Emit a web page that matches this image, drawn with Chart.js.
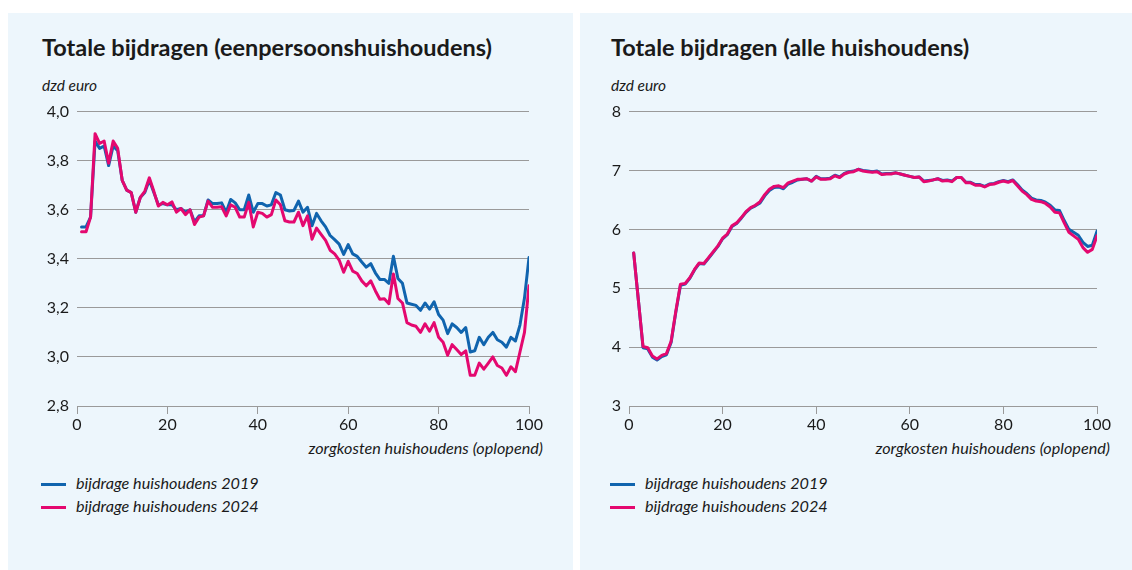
<!DOCTYPE html>
<html lang="nl">
<head>
<meta charset="utf-8">
<title>Totale bijdragen</title>
<script src="https://cdn.jsdelivr.net/npm/chart.js@4/dist/chart.umd.min.js"></script>
<style>
  body { margin: 0; width: 1132px; height: 570px; background: #fff; position: relative; overflow: hidden; font-family: Lato, "Open Sans", sans-serif; color: #1a1a1a; }
  .panel { position: absolute; top: 13px; height: 557px; background: #edf6fc; }
  .title { position: absolute; font-weight: bold; font-size: 23.5px; }
  .unit, .xtitle, .legend { position: absolute; font-style: italic; font-size: 16.2px; }
  .unit { font-size: 15.5px; }
  .xtitle { text-align: right; }
  .legend div { height: 23px; line-height: 23px; white-space: nowrap; }
  .legend span { display: inline-block; width: 25px; height: 3px; vertical-align: middle; margin-right: 10px; }
  canvas { position: absolute; }
</style>
</head>
<body>
<div class="panel" style="left:8px;width:565px"></div>
<div class="panel" style="left:580px;width:552px"></div>

<div class="title" style="left:42px;top:33px">Totale bijdragen (eenpersoonshuishoudens)</div>
<div class="unit" style="left:42px;top:76px">dzd euro</div>
<div class="xtitle" style="right:589px;top:438px">zorgkosten huishoudens (oplopend)</div>
<div class="legend" style="left:41px;top:471px">
  <div><span style="background:#1064ae"></span>bijdrage huishoudens 2019</div>
  <div><span style="background:#e4086f"></span>bijdrage huishoudens 2024</div>
</div>
<div style="position:absolute;left:30px;top:94px;width:520px;height:346px"><canvas id="links"></canvas></div>

<div class="title" style="left:611px;top:33px">Totale bijdragen (alle huishoudens)</div>
<div class="unit" style="left:611px;top:76px">dzd euro</div>
<div class="xtitle" style="right:22px;top:438px">zorgkosten huishoudens (oplopend)</div>
<div class="legend" style="left:610px;top:471px">
  <div><span style="background:#1064ae"></span>bijdrage huishoudens 2019</div>
  <div><span style="background:#e4086f"></span>bijdrage huishoudens 2024</div>
</div>
<div style="position:absolute;left:590px;top:94px;width:530px;height:346px"><canvas id="rechts"></canvas></div>

<script>
// percentielen zorgkosten (oplopend)
const percentiel = [
  1, 2, 3, 4, 5, 6, 7, 8, 9, 10, 11, 12, 13, 14, 15, 16, 17, 18, 19, 20,
  21, 22, 23, 24, 25, 26, 27, 28, 29, 30, 31, 32, 33, 34, 35, 36, 37, 38, 39, 40,
  41, 42, 43, 44, 45, 46, 47, 48, 49, 50, 51, 52, 53, 54, 55, 56, 57, 58, 59, 60,
  61, 62, 63, 64, 65, 66, 67, 68, 69, 70, 71, 72, 73, 74, 75, 76, 77, 78, 79, 80,
  81, 82, 83, 84, 85, 86, 87, 88, 89, 90, 91, 92, 93, 94, 95, 96, 97, 98, 99, 100
];
const xTicks = [0, 20, 40, 60, 80, 100];

// eenpersoonshuishoudens, dzd euro
const een2019 = [
  3.53, 3.53, 3.57, 3.88, 3.85, 3.86, 3.78, 3.86, 3.84, 3.72, 3.68, 3.67, 3.59, 3.65, 3.67, 3.72, 3.67, 3.62, 3.625, 3.62,
  3.62, 3.60, 3.605, 3.59, 3.60, 3.55, 3.575, 3.575, 3.64, 3.625, 3.625, 3.628, 3.59, 3.642, 3.628, 3.60, 3.60, 3.66, 3.59, 3.625,
  3.625, 3.615, 3.62, 3.67, 3.66, 3.60, 3.595, 3.597, 3.635, 3.59, 3.61, 3.535, 3.585, 3.555, 3.53, 3.495, 3.478, 3.46, 3.418, 3.458,
  3.42, 3.41, 3.387, 3.366, 3.38, 3.343, 3.316, 3.316, 3.30, 3.41, 3.32, 3.30, 3.22, 3.215, 3.21, 3.19, 3.22, 3.195, 3.225, 3.173,
  3.15, 3.095, 3.135, 3.12, 3.10, 3.12, 3.02, 3.025, 3.08, 3.05, 3.08, 3.10, 3.07, 3.06, 3.04, 3.08, 3.065, 3.13, 3.24, 3.405
];
const een2024 = [
  3.51, 3.51, 3.57, 3.91, 3.87, 3.88, 3.79, 3.88, 3.85, 3.72, 3.68, 3.67, 3.59, 3.65, 3.675, 3.73, 3.675, 3.615, 3.63, 3.62,
  3.632, 3.59, 3.605, 3.58, 3.60, 3.54, 3.57, 3.575, 3.635, 3.61, 3.61, 3.612, 3.575, 3.62, 3.61, 3.57, 3.57, 3.63, 3.53, 3.59,
  3.585, 3.57, 3.58, 3.64, 3.62, 3.555, 3.55, 3.55, 3.59, 3.535, 3.575, 3.48, 3.525, 3.50, 3.475, 3.435, 3.42, 3.395, 3.345, 3.39,
  3.35, 3.34, 3.31, 3.29, 3.31, 3.27, 3.235, 3.237, 3.217, 3.338, 3.238, 3.22, 3.14, 3.13, 3.125, 3.10, 3.135, 3.105, 3.14, 3.08,
  3.06, 3.007, 3.05, 3.03, 3.01, 3.025, 2.925, 2.925, 2.975, 2.95, 2.975, 3.00, 2.965, 2.955, 2.925, 2.96, 2.94, 3.02, 3.10, 3.29
];
const eenYTicks = [2.8, 3.0, 3.2, 3.4, 3.6, 3.8, 4.0];

// alle huishoudens, dzd euro
const alle2019 = [
  5.60, 4.80, 3.99, 3.97, 3.83, 3.78, 3.84, 3.87, 4.08, 4.59, 5.05, 5.07, 5.17, 5.31, 5.42, 5.41, 5.51, 5.61, 5.71, 5.84,
  5.91, 6.05, 6.10, 6.19, 6.29, 6.36, 6.40, 6.45, 6.57, 6.66, 6.71, 6.72, 6.69, 6.77, 6.80, 6.84, 6.85, 6.86, 6.82, 6.90,
  6.86, 6.86, 6.87, 6.92, 6.89, 6.95, 6.98, 6.99, 7.02, 7.00, 6.99, 6.98, 6.99, 6.94, 6.95, 6.95, 6.96, 6.94, 6.92, 6.90,
  6.88, 6.89, 6.82, 6.83, 6.84, 6.86, 6.83, 6.84, 6.82, 6.88, 6.88, 6.80, 6.80, 6.76, 6.76, 6.73, 6.77, 6.78, 6.81, 6.83,
  6.81, 6.84, 6.76, 6.67, 6.61, 6.53, 6.50, 6.49, 6.46, 6.41, 6.33, 6.32, 6.15, 6.00, 5.95, 5.90, 5.78, 5.71, 5.73, 5.97
];
const alle2024 = [
  5.60, 4.80, 4.01, 3.99, 3.85, 3.80, 3.86, 3.89, 4.10, 4.61, 5.07, 5.08, 5.18, 5.32, 5.43, 5.42, 5.52, 5.62, 5.72, 5.85,
  5.92, 6.06, 6.11, 6.20, 6.30, 6.37, 6.41, 6.47, 6.59, 6.68, 6.73, 6.74, 6.71, 6.79, 6.82, 6.85, 6.85, 6.86, 6.82, 6.89,
  6.85, 6.85, 6.86, 6.91, 6.88, 6.94, 6.97, 6.98, 7.02, 6.99, 6.98, 6.97, 6.98, 6.93, 6.94, 6.94, 6.96, 6.94, 6.92, 6.90,
  6.88, 6.89, 6.81, 6.82, 6.84, 6.86, 6.82, 6.83, 6.81, 6.88, 6.88, 6.79, 6.79, 6.75, 6.75, 6.72, 6.76, 6.77, 6.80, 6.82,
  6.80, 6.83, 6.74, 6.65, 6.59, 6.51, 6.48, 6.47, 6.44, 6.38, 6.29, 6.28, 6.11, 5.95, 5.89, 5.83, 5.69, 5.61, 5.66, 5.89
];
const alleYTicks = [3, 4, 5, 6, 7, 8];

const BLAUW = "#1064ae";
const ROZE = "#e4086f";
const GRID = "#9a9a9a";

function punten(waarden) {
  return waarden.map((y, i) => ({ x: percentiel[i], y: y }));
}

function maakGrafiek(id, d2019, d2024, yTicks, yWidth, padRight, decimalen) {
  const ctx = document.getElementById(id).getContext("2d");
  return new Chart(ctx, {
    type: "line",
    data: {
      datasets: [
        // 2024 eerst zodat die bovenop ligt
        { label: "bijdrage huishoudens 2024", data: punten(d2024), borderColor: ROZE, borderWidth: 3 },
        { label: "bijdrage huishoudens 2019", data: punten(d2019), borderColor: BLAUW, borderWidth: 3 }
      ]
    },
    options: {
      responsive: true,
      maintainAspectRatio: false,
      animation: false,
      elements: { point: { radius: 0 }, line: { tension: 0, borderJoinStyle: "round", borderCapStyle: "round" } },
      layout: { padding: { top: 10, right: padRight, bottom: 0, left: 0 } },
      plugins: { legend: { display: false }, tooltip: { enabled: false } },
      scales: {
        x: {
          type: "linear",
          min: 0,
          max: 100,
          afterBuildTicks: function (axis) { axis.ticks = xTicks.map(v => ({ value: v })); },
          afterFit: function (axis) { axis.height = 34; },
          grid: { drawOnChartArea: false, drawTicks: true, tickLength: 8, color: GRID },
          border: { display: true, color: GRID, width: 1 },
          ticks: { padding: 1, color: "#1a1a1a", font: { family: "Lato", size: 16 }, maxRotation: 0 }
        },
        y: {
          min: yTicks[0],
          max: yTicks[yTicks.length - 1],
          afterBuildTicks: function (axis) { axis.ticks = yTicks.map(v => ({ value: v })); },
          afterFit: function (axis) { axis.width = yWidth; },
          grid: { color: GRID, lineWidth: 1, drawTicks: false },
          border: { display: false },
          ticks: {
            padding: 8,
            color: "#1a1a1a",
            font: { family: "Lato", size: 16 },
            callback: function (v) { return v.toFixed(decimalen).replace(".", ","); }
          }
        }
      }
    }
  });
}

maakGrafiek("links", een2019, een2024, eenYTicks, 47, 21, 1);
maakGrafiek("rechts", alle2019, alle2024, alleYTicks, 39, 23, 0);
</script>
</body>
</html>
